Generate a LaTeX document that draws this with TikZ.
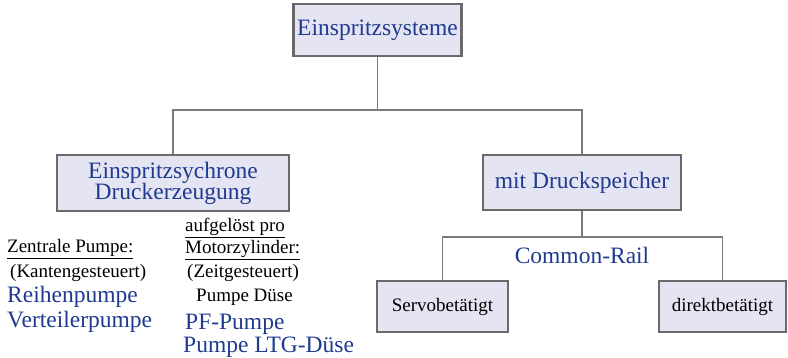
\documentclass[tikz,border=0pt]{standalone}
\usepackage{fontspec}
\setmainfont{Liberation Serif}
\definecolor{boxfill}{HTML}{E4E4F2}
\definecolor{boxline}{HTML}{6A6A6A}
\definecolor{conn}{HTML}{7A7A7A}
\definecolor{txtblue}{HTML}{1F3A8F}
\tikzset{
  bigfont/.style={font=\fontsize{23.5}{25}\selectfont},
  smallfont/.style={font=\fontsize{19}{21}\selectfont},
  boxnode/.style={draw=boxline, line width=2.2pt, fill=boxfill, inner sep=0pt, align=center},
  connline/.style={draw=conn, line width=1.6pt},
  lbl/.style={anchor=base west, inner sep=0pt},
}
\begin{document}
\begin{tikzpicture}[x=1pt,y=-1pt]
\useasboundingbox (0,0) rectangle (788,358);
% boxes
\node[boxnode, bigfont, text=txtblue, minimum width=168pt, minimum height=52pt] (top) at (377.5,30) {Einspritzsysteme};
\node[boxnode, bigfont, text=txtblue, minimum width=232pt, minimum height=56pt] (left) at (173,183) {Einspritzsychrone\\[-4pt]Druckerzeugung};
\node[boxnode, bigfont, text=txtblue, minimum width=198pt, minimum height=55pt] (right) at (582,182.5) {mit Druckspeicher};
\node[boxnode, smallfont, text=black, minimum width=131pt, minimum height=51pt] (servo) at (442.5,306.5) {Servobet\"atigt};
\node[boxnode, smallfont, text=black, minimum width=127pt, minimum height=51pt] (direkt) at (722.5,306.5) {direktbet\"atigt};
% connectors
\coordinate (bus1) at (377.5,110);
\coordinate (bus2) at (582,237);
\draw[connline] (top.south) -- (bus1);
\draw[connline] (left.north) |- (bus1) -| (right.north);
\draw[connline] (right.south) -- (bus2);
\draw[connline] (servo.north) |- (bus2) -| (direkt.north);
% labels
\node[bigfont, text=txtblue, inner sep=0pt] (cr) at (582,255) {Common-Rail};
\node[lbl, smallfont] (zp) at (7,252.5) {\underline{Zentrale Pumpe:}};
\node[lbl, smallfont] (kg) at (10,278) {(Kantengesteuert)};
\node[lbl, bigfont, text=txtblue] (rp) at (7,303) {Reihenpumpe};
\node[lbl, bigfont, text=txtblue] (vp) at (7,327) {Verteilerpumpe};
\node[lbl, smallfont] (ag) at (185,232) {\underline{aufgel\"ost pro}};
\node[lbl, smallfont] (mz) at (185,254) {\underline{Motorzylinder:}};
\node[lbl, smallfont] (zg) at (187,278) {(Zeitgesteuert)};
\node[lbl, smallfont] (pd) at (196,302) {Pumpe D\"use};
\node[lbl, bigfont, text=txtblue] (pf) at (185,330) {PF-Pumpe};
\node[lbl, bigfont, text=txtblue] (ltg) at (183,352.5) {Pumpe LTG-D\"use};
\end{tikzpicture}
\end{document}
